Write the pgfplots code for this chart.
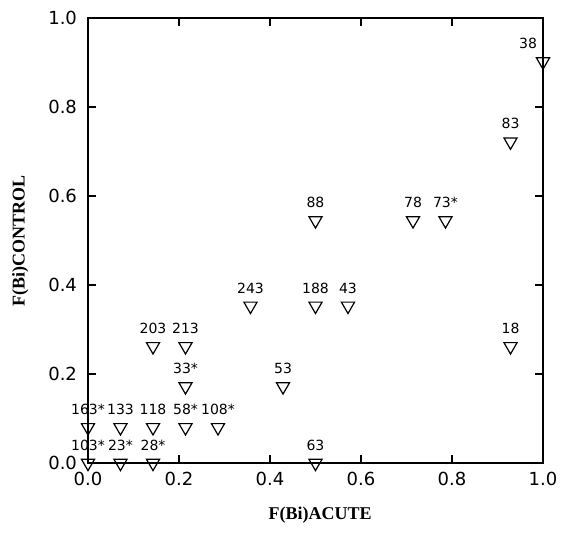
\documentclass[border=0pt]{standalone}
\usepackage{fontspec}
\setmainfont{DejaVu Sans}
\newfontfamily\labfont{Liberation Serif}
\usepackage{pgfplots}
\pgfplotsset{compat=1.18}

\pgfplotsset{tri/.style={only marks, mark=triangle, mark size=3.8pt,
    mark options={rotate=180, line width=0.6pt, fill=none, draw=black},
    nodes near coords, point meta=explicit symbolic,
    every node near coord/.append style={font=\fontsize{7}{8}\selectfont,
      anchor=south, inner sep=0pt, yshift=6pt}}}

\begin{document}
\begin{tikzpicture}
  \begin{axis}[
      scale only axis, width=227.5pt, height=222.5pt,
      xmin=0, xmax=1, ymin=0, ymax=1,
      xtick={0,0.2,...,1.0}, ytick={0,0.2,...,1.0},
      tick align=inside, major tick length=4pt,
      axis line style={line width=0.7pt}, tick style={line width=0.6pt, black},
      /pgf/number format/assume math mode=true,
      /pgf/number format/.cd, fixed, fixed zerofill, precision=1, /pgfplots/.cd,
      ticklabel style={font=\fontsize{9}{10}\selectfont},
      yticklabel style={xshift=-2pt},
      xticklabel style={yshift=-1pt},
      xlabel={\labfont\bfseries F(Bi)ACUTE},
      ylabel={\labfont\bfseries F(Bi)CONTROL},
      label style={font=\fontsize{9}{10}\selectfont},
      xlabel style={at={(axis description cs:0.51,-0.117)}, anchor=center},
      ylabel style={at={(axis description cs:-0.149,0.5)}, anchor=center},
      clip=false]
    \addplot[tri]
      coordinates {
        (0,0)[103*] (0.0714,0)[23*] (0.1429,0)[28*] (0.5,0)[63]
        (0,0.08)[163*] (0.0714,0.08)[133] (0.1429,0.08)[118]
        (0.2143,0.08)[58*] (0.2857,0.08)[108*]
        (0.2143,0.172)[33*] (0.4286,0.172)[53]
        (0.1429,0.262)[203] (0.2143,0.262)[213] (0.9286,0.262)[18]
        (0.3571,0.353)[243] (0.5,0.353)[188] (0.5714,0.353)[43]
        (0.5,0.545)[88] (0.7143,0.545)[78] (0.7857,0.545)[73*]
        (0.9286,0.722)[83]
      };
    % label of the corner point sits left of the axis line
    \addplot[tri, every node near coord/.append style={xshift=-7.5pt}]
      coordinates {(1,0.902)[38]};
  \end{axis}
  \pgfresetboundingbox
  \path ([shift={(-44pt,-34.5pt)}]current axis.south west)
    rectangle ([shift={(12pt,9pt)}]current axis.north east);
\end{tikzpicture}
\end{document}
